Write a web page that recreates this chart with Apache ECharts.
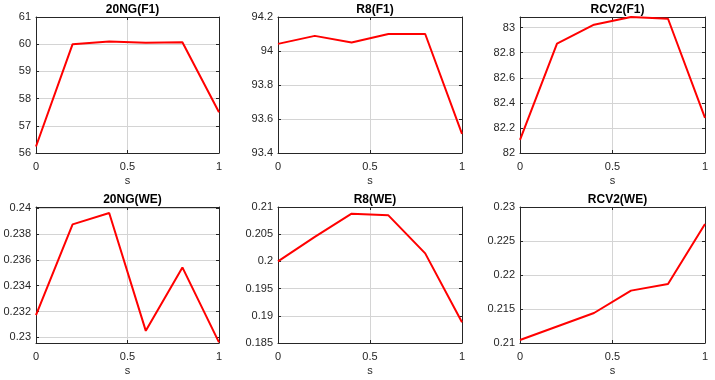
<!DOCTYPE html>
<html>
<head>
<meta charset="utf-8">
<script src="https://cdn.jsdelivr.net/npm/echarts@6/dist/echarts.min.js"></script>
<style>
  html, body { margin: 0; padding: 0; background: #fff; }
  #chart { width: 715px; height: 380px; }
</style>
</head>
<body>
<div id="chart"></div>
<script>
  // x positions shared by every panel
  const sValues = [0, 0.2, 0.4, 0.6, 0.8, 1]
  const sTicks = [0, 0.5, 1]

  const titles = ['20NG(F1)', 'R8(F1)', 'RCV2(F1)', '20NG(WE)', 'R8(WE)', 'RCV2(WE)']

  // series values
  const ng20F1 = [56.24, 60.0, 60.1, 60.05, 60.07, 57.5]
  const r8F1 = [94.042, 94.089, 94.05, 94.1, 94.1, 93.513]
  const rcv2F1 = [82.105, 82.873, 83.024, 83.085, 83.071, 82.28]
  const ng20WE = [0.23172, 0.23874, 0.23962, 0.23051, 0.23541, 0.22962]
  const r8WE = [0.2, 0.2045, 0.20877, 0.20847, 0.20148, 0.1888]
  const rcv2WE = [0.21044, 0.21243, 0.21441, 0.2177, 0.21868, 0.2275]

  // y tick labels per panel
  const ng20F1Ticks = [56, 57, 58, 59, 60, 61]
  const r8F1Ticks = [93.4, 93.6, 93.8, 94, 94.2]
  const rcv2F1Ticks = [82, 82.2, 82.4, 82.6, 82.8, 83]
  const ng20WETicks = [0.23, 0.232, 0.234, 0.236, 0.238, 0.24]
  const r8WETicks = [0.185, 0.19, 0.195, 0.2, 0.205, 0.21]
  const rcv2WETicks = [0.21, 0.215, 0.22, 0.225, 0.23]

  // y limits per panel
  const yMins = [56, 93.4, 82, 0.22957, 0.185, 0.21]
  const yMaxs = [61, 94.2, 83.085, 0.24008, 0.21, 0.23]

  const seriesData = [ng20F1, r8F1, rcv2F1, ng20WE, r8WE, rcv2WE]
  const tickSets = [ng20F1Ticks, r8F1Ticks, rcv2F1Ticks, ng20WETicks, r8WETicks, rcv2WETicks]

  const cols = [
    { left: 36, width: 183 },
    { left: 278, width: 184 },
    { left: 520, width: 185 }
  ]
  const rows = [
    { top: 17, height: 136 },
    { top: 207, height: 136 }
  ]

  const ink = '#262626'
  const gridGray = '#d4d4d4'
  const fontFamily = '"Liberation Sans", Arial, Helvetica, sans-serif'
  const fmt = (v) => String(+Number(v).toFixed(4))

  const grid = []
  const title = []
  const xAxis = []
  const yAxis = []
  const series = []

  for (let i = 0; i < 6; i++) {
    const c = cols[i % 3]
    const r = rows[Math.floor(i / 3)]
    grid.push({ left: c.left, top: r.top, width: c.width, height: r.height, containLabel: false })

    title.push({
      text: titles[i],
      left: c.left + c.width / 2,
      top: r.top - 18,
      textAlign: 'center',
      textStyle: { fontFamily, fontSize: 12, fontWeight: 'bold', color: '#000' }
    })

    // bottom x axis
    xAxis.push({
      type: 'value',
      gridIndex: i,
      min: 0,
      max: 1,
      axisLine: { show: true, onZero: false, lineStyle: { color: ink, width: 1 } },
      axisTick: { show: true, inside: true, length: 3, lineStyle: { color: ink }, customValues: sTicks },
      axisLabel: { fontFamily, fontSize: 11, color: ink, margin: 8, formatter: fmt, customValues: sTicks },
      splitLine: { show: true, lineStyle: { color: gridGray, width: 1 } },
      name: 's',
      nameLocation: 'middle',
      nameGap: 22,
      nameTextStyle: { fontFamily, fontSize: 11, color: ink }
    })
    // top x axis (box + mirror ticks)
    xAxis.push({
      type: 'value',
      gridIndex: i,
      position: 'top',
      min: 0,
      max: 1,
      axisLine: { show: true, onZero: false, lineStyle: { color: ink, width: 1 } },
      axisTick: { show: true, inside: true, length: 3, lineStyle: { color: ink }, customValues: sTicks },
      axisLabel: { show: false },
      splitLine: { show: false }
    })

    // left y axis
    yAxis.push({
      type: 'value',
      gridIndex: i,
      min: yMins[i],
      max: yMaxs[i],
      axisLine: { show: true, onZero: false, lineStyle: { color: ink, width: 1 } },
      axisTick: { show: true, inside: true, length: 3, lineStyle: { color: ink }, customValues: tickSets[i] },
      axisLabel: { fontFamily, fontSize: 11, color: ink, margin: 5, formatter: fmt, customValues: tickSets[i] },
      splitLine: { show: true, lineStyle: { color: gridGray, width: 1 } }
    })
    // right y axis (box + mirror ticks)
    yAxis.push({
      type: 'value',
      gridIndex: i,
      position: 'right',
      min: yMins[i],
      max: yMaxs[i],
      axisLine: { show: true, onZero: false, lineStyle: { color: ink, width: 1 } },
      axisTick: { show: true, inside: true, length: 3, lineStyle: { color: ink }, customValues: tickSets[i] },
      axisLabel: { show: false },
      splitLine: { show: false }
    })

    series.push({
      type: 'line',
      xAxisIndex: i * 2,
      yAxisIndex: i * 2,
      data: sValues.map((s, k) => [s, seriesData[i][k]]),
      showSymbol: false,
      symbol: 'none',
      lineStyle: { color: '#ff0000', width: 2 },
      clip: false,
      z: 5
    })
  }

  const chart = echarts.init(document.getElementById('chart'), null, { renderer: 'canvas' })
  chart.setOption({
    animation: false,
    backgroundColor: '#fff',
    title,
    grid,
    xAxis,
    yAxis,
    series
  })
</script>
</body>
</html>
